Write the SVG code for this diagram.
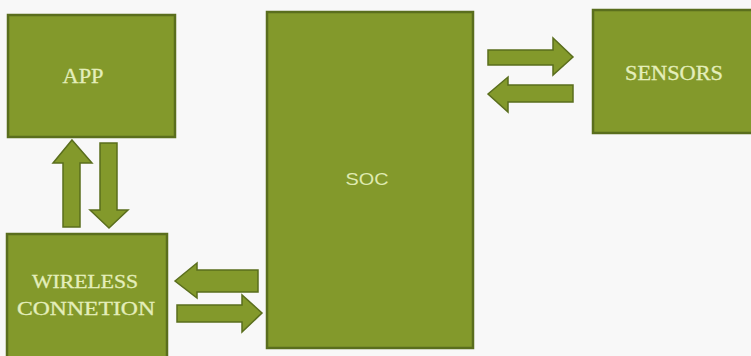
<svg xmlns="http://www.w3.org/2000/svg" width="751" height="356" viewBox="0 0 751 356">
  <style>
    .box { fill: #83992b; stroke: #5a6e1d; stroke-width: 2.5; }
    .arrow { fill: #83992b; stroke: #5a6e1d; stroke-width: 1.5; stroke-linejoin: miter; }
    .serif { font-family: "Liberation Serif", "Times New Roman", serif; fill: #e4eebb; text-anchor: middle; stroke: #e4eebb; stroke-width: 0.3; }
    .sans { font-family: "Liberation Sans", Arial, sans-serif; fill: #dfeab0; text-anchor: middle; }
  </style>
  <rect x="0" y="0" width="751" height="356" fill="#f8f8f8"/>

  <g id="app">
    <rect class="box" x="8" y="15" width="167" height="122"/>
    <text class="serif" x="83" y="83" font-size="20" textLength="41" lengthAdjust="spacingAndGlyphs">APP</text>
  </g>

  <g id="wireless">
    <rect class="box" x="7" y="234" width="160" height="124"/>
    <text class="serif" x="85" y="288" font-size="19" textLength="106" lengthAdjust="spacingAndGlyphs">WIRELESS</text>
    <text class="serif" x="86" y="315" font-size="19" textLength="138" lengthAdjust="spacingAndGlyphs">CONNETION</text>
  </g>

  <g id="soc">
    <rect class="box" x="267" y="12" width="206" height="336"/>
    <text class="sans" x="367" y="185" font-size="17" textLength="43" lengthAdjust="spacingAndGlyphs">SOC</text>
  </g>

  <g id="sensors">
    <rect class="box" x="593" y="10" width="162" height="123"/>
    <text class="serif" x="674" y="80" font-size="20" textLength="98" lengthAdjust="spacingAndGlyphs">SENSORS</text>
  </g>

  <g id="connectors">
    <polygon class="arrow" points="72,140 92,163 80,163 80,227 63,227 63,163 53,163"/>
    <polygon class="arrow" points="100,143 117,143 117,210 128,210 109,228 90,210 100,210"/>
    <polygon class="arrow" points="175,281 197,263 197,270 258,270 258,292 197,292 197,298"/>
    <polygon class="arrow" points="177,305 242,305 242,295 262,313 242,332 242,322 177,322"/>
    <polygon class="arrow" points="488,50 553,50 553,38 573,57 553,75 553,65 488,65"/>
    <polygon class="arrow" points="488,94 508,77 508,85 573,85 573,102 508,102 508,112"/>
  </g>
</svg>
